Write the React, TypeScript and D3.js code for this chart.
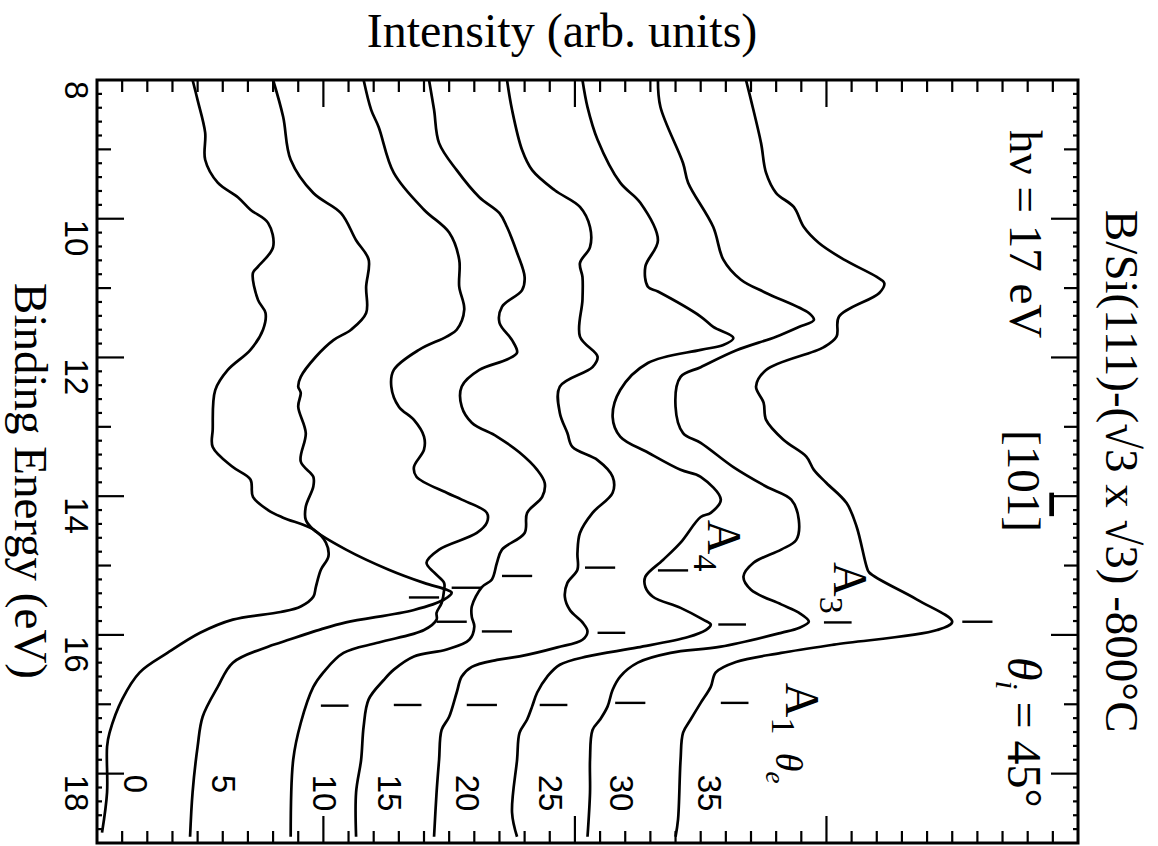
import React from 'react';
import * as d3 from 'd3';

// photoemission spectra, B/Si(111) sqrt3, hv = 17 eV
// each point: [binding energy (eV), intensity (arb. units)]
const angles = [0, 5, 10, 15, 20, 25, 30, 35];

const spec0: [number, number][] = [
  [8.0, 0.48], [8.29, 0.5], [8.76, 0.53], [9.15, 0.53], [9.48, 0.58], [9.69, 0.66], [9.87, 0.71],
  [10.06, 0.78], [10.41, 0.8], [10.69, 0.74], [10.78, 0.72], [11.17, 0.74], [11.36, 0.77], [11.6, 0.76],
  [11.89, 0.71], [12.18, 0.62], [12.47, 0.57], [13.04, 0.56], [13.29, 0.56], [13.58, 0.64], [13.76, 0.71],
  [14.01, 0.72], [14.2, 0.78], [14.31, 0.84], [14.48, 0.96], [14.67, 1.01], [14.87, 1.02], [15.06, 0.99],
  [15.31, 0.97], [15.45, 0.96], [15.59, 0.91], [15.67, 0.83], [15.78, 0.64], [15.97, 0.51], [16.26, 0.38],
  [16.54, 0.27], [16.93, 0.2], [17.41, 0.15], [17.61, 0.14], [18.27, 0.14], [18.85, 0.12],
];
const spec5: [number, number][] = [
  [8.0, 0.8], [8.53, 0.84], [9.15, 0.87], [9.63, 0.96], [9.92, 1.07], [10.31, 1.13], [10.59, 1.18],
  [10.98, 1.17], [11.36, 1.17], [11.6, 1.11], [11.75, 1.04], [11.99, 0.97], [12.28, 0.91], [12.42, 0.9],
  [12.51, 0.91], [12.71, 0.9], [13.09, 0.93], [13.5, 0.91], [13.72, 0.96], [13.86, 0.96], [14.15, 0.93],
  [14.34, 0.93], [14.48, 0.96], [14.77, 1.09], [15.06, 1.26], [15.25, 1.4], [15.35, 1.49], [15.39, 1.51],
  [15.49, 1.48], [15.64, 1.36], [15.82, 1.09], [15.92, 0.99], [16.11, 0.83], [16.17, 0.78], [16.4, 0.64],
  [16.75, 0.58], [17.18, 0.52], [17.61, 0.5], [18.27, 0.48], [18.91, 0.47],
];
const spec10: [number, number][] = [
  [8.0, 1.16], [8.43, 1.19], [8.68, 1.22], [9.34, 1.28], [9.87, 1.4], [10.2, 1.5], [10.59, 1.54],
  [10.98, 1.54], [11.31, 1.56], [11.6, 1.53], [11.7, 1.49], [11.89, 1.38], [12.18, 1.28], [12.42, 1.27],
  [12.71, 1.3], [12.9, 1.36], [13.14, 1.4], [13.33, 1.4], [13.58, 1.36], [13.72, 1.37], [13.95, 1.49],
  [14.05, 1.55], [14.24, 1.65], [14.38, 1.65], [14.53, 1.61], [14.77, 1.46], [14.96, 1.41], [15.1, 1.44],
  [15.25, 1.48], [15.35, 1.48], [15.54, 1.47], [15.68, 1.45], [15.78, 1.45], [15.93, 1.4], [16.11, 1.22],
  [16.26, 1.08], [16.54, 1.0], [16.75, 0.96], [17.27, 0.91], [17.8, 0.88], [18.91, 0.87],
];
const spec15: [number, number][] = [
  [8.0, 1.42], [8.43, 1.44], [8.91, 1.46], [9.3, 1.53], [9.69, 1.62], [9.92, 1.7], [10.12, 1.73],
  [10.49, 1.77], [10.84, 1.8], [11.03, 1.79], [11.27, 1.71], [11.5, 1.7], [11.75, 1.75], [11.93, 1.77],
  [12.03, 1.73], [12.18, 1.62], [12.42, 1.55], [12.71, 1.55], [12.94, 1.59], [13.14, 1.69], [13.37, 1.78],
  [13.62, 1.85], [13.81, 1.88], [14.01, 1.87], [14.24, 1.81], [14.53, 1.8], [14.77, 1.71], [14.96, 1.69],
  [15.2, 1.67], [15.31, 1.63], [15.59, 1.59], [15.74, 1.59], [15.88, 1.6], [16.07, 1.58], [16.21, 1.49],
  [16.31, 1.36], [16.5, 1.28], [16.65, 1.24], [16.93, 1.18], [17.32, 1.16], [17.8, 1.15], [18.27, 1.13],
  [18.91, 1.13],
];
const spec20: [number, number][] = [
  [8.0, 1.73], [8.43, 1.75], [9.01, 1.79], [9.3, 1.83], [9.59, 1.92], [9.83, 2.02], [10.12, 2.06],
  [10.41, 2.06], [10.64, 2.02], [10.84, 2.03], [11.17, 2.03], [11.7, 2.02], [11.99, 2.09], [12.14, 2.07],
  [12.42, 1.94], [12.8, 1.94], [13.09, 1.97], [13.29, 1.99], [13.48, 2.09], [13.72, 2.15], [13.95, 2.15],
  [14.24, 2.07], [14.53, 2.02], [14.82, 2.01], [15.06, 2.01], [15.25, 1.97], [15.45, 1.96], [15.64, 1.98],
  [15.82, 2.03], [15.95, 2.05], [16.07, 2.03], [16.18, 1.93], [16.31, 1.78], [16.36, 1.69], [16.46, 1.59],
  [16.6, 1.55], [16.83, 1.53], [17.18, 1.5], [17.37, 1.47], [17.8, 1.46], [18.27, 1.45], [18.91, 1.44],
];
const spec25: [number, number][] = [
  [8.0, 2.03], [8.39, 2.05], [8.86, 2.09], [9.48, 2.18], [9.77, 2.26], [10.31, 2.33], [10.69, 2.28],
  [10.98, 2.29], [11.05, 2.33], [11.41, 2.5], [11.56, 2.55], [11.72, 2.63], [11.82, 2.59], [11.89, 2.5],
  [12.08, 2.29], [12.47, 2.18], [12.86, 2.15], [13.14, 2.18], [13.37, 2.29], [13.62, 2.42], [13.72, 2.5],
  [14.05, 2.58], [14.24, 2.54], [14.3, 2.5], [14.67, 2.42], [14.92, 2.35], [15.16, 2.28], [15.31, 2.28],
  [15.45, 2.31], [15.61, 2.42], [15.78, 2.51], [15.85, 2.54], [15.93, 2.52], [16.03, 2.45], [16.18, 2.25],
  [16.31, 2.05], [16.43, 1.94], [16.6, 1.89], [16.83, 1.85], [17.03, 1.83], [17.22, 1.81], [17.41, 1.78],
  [17.8, 1.77], [18.56, 1.75], [18.91, 1.77],
];
const spec30: [number, number][] = [
  [8.0, 2.33], [8.39, 2.34], [9.2, 2.43], [9.48, 2.45], [10.12, 2.55], [10.59, 2.59], [10.88, 2.66],
  [11.07, 2.76], [11.36, 2.93], [11.46, 2.95], [11.56, 2.89], [11.7, 2.8], [11.9, 2.64], [12.14, 2.5],
  [12.28, 2.42], [12.71, 2.4], [13.09, 2.43], [13.23, 2.5], [13.58, 2.63], [13.86, 2.76], [14.05, 2.86],
  [14.34, 2.89], [14.63, 2.88], [14.77, 2.82], [14.96, 2.71], [15.16, 2.67], [15.35, 2.7], [15.56, 2.82],
  [15.68, 2.89], [15.81, 2.93], [15.9, 2.89], [15.97, 2.82], [16.17, 2.58], [16.26, 2.38], [16.4, 2.25],
  [16.6, 2.18], [16.79, 2.15], [17.03, 2.13], [17.22, 2.1], [17.37, 2.07], [17.8, 2.06], [18.27, 2.06],
  [18.91, 2.05],
];
const spec35: [number, number][] = [
  [8.0, 2.68], [8.29, 2.7], [8.91, 2.74], [9.34, 2.76], [9.63, 2.8], [9.83, 2.87], [10.12, 2.91],
  [10.35, 2.97], [10.59, 3.07], [10.84, 3.2], [10.93, 3.23], [11.07, 3.21], [11.41, 3.05], [11.7, 3.04],
  [11.85, 2.99], [12.18, 2.76], [12.42, 2.72], [12.65, 2.75], [12.9, 2.76], [13.19, 2.83], [13.43, 2.92],
  [13.62, 2.95], [13.81, 3.0], [14.1, 3.08], [14.44, 3.12], [15.02, 3.16], [15.1, 3.17], [15.49, 3.36],
  [15.81, 3.5], [15.93, 3.44], [16.14, 3.03], [16.26, 2.82], [16.39, 2.64], [16.54, 2.56], [16.75, 2.54],
  [16.98, 2.5], [17.22, 2.46], [17.41, 2.43], [17.8, 2.42], [18.66, 2.41], [18.91, 2.4],
];
const spectra = [spec0, spec5, spec10, spec15, spec20, spec25, spec30, spec35];

// peak position markers: [binding energy, intensity from, intensity to]
const marksA4: [number, number, number][] = [
  [15.46, 1.34, 1.46], [15.32, 1.51, 1.63], [15.15, 1.71, 1.83], [15.03, 2.04, 2.16], [15.07, 2.33, 2.45],
];
const marksA3: [number, number, number][] = [
  [15.81, 1.45, 1.57], [15.95, 1.63, 1.75], [15.97, 2.09, 2.2], [15.85, 2.57, 2.68], [15.82, 2.99, 3.1],
  [15.81, 3.54, 3.66],
];
const marksA1: [number, number, number][] = [
  [17.02, 0.99, 1.1], [17.01, 1.28, 1.39], [17.01, 1.57, 1.69], [17.01, 1.86, 1.97], [16.98, 2.16, 2.28],
  [16.98, 2.58, 2.69],
];

// peak names with where they are written: [binding energy, intensity]
const peakNames = ['4', '3', '1'];
const peakNamePos: [number, number][] = [[14.34, 2.53], [14.95, 3.03], [16.69, 2.84]];

const energyTicks = [8, 10, 12, 14, 16, 18];

const serif = "'Liberation Serif', 'Times New Roman', serif";
const sans = "'Liberation Sans', Arial, sans-serif";

const Rot = ({ x, y, size, family = serif, anchor = 'start', children }: any) => (
  <text
    transform={`translate(${x},${y}) rotate(90)`}
    fontSize={size}
    fontFamily={family}
    textAnchor={anchor}
    fill="#000"
  >
    {children}
  </text>
);

export default function App() {
  const W = 1158;
  const H = 846;
  const x = d3.scaleLinear().domain([0.1, 4.0]).range([97, 1078]);
  const y = d3.scaleLinear().domain([8, 19]).range([80, 843]);

  const line = d3
    .line<[number, number]>()
    .x((d) => x(d[1]))
    .y((d) => y(d[0]))
    .curve(d3.curveCatmullRom.alpha(0.5));

  // ticks: every 0.2 eV on the energy axis, every 0.1 on the intensity axis
  const eTicks = d3.range(1, 55).map((i) => ({ v: 8 + i * 0.2, len: i % 10 === 0 ? 27 : i % 5 === 0 ? 14 : 5 }));
  const iTicks = d3.range(1, 39).map((i) => ({ v: 0.1 + i * 0.1, len: (i + 1) % 10 === 0 ? 27 : 12 }));

  const [x0, x1] = x.range();
  const [y0, y1] = y.range();

  return (
    <svg width={W} height={H} style={{ position: 'absolute', left: 0, top: 0, background: '#fff' }}>
      <rect x={0} y={0} width={W} height={H} fill="#fff" />

      {/* frame */}
      <rect x={x0} y={y0} width={x1 - x0} height={y1 - y0} fill="none" stroke="#000" strokeWidth={3} />

      <g stroke="#000" strokeWidth={2.2}>
        {eTicks.map((t, i) => (
          <g key={'e' + i}>
            <line x1={x0} x2={x0 + t.len} y1={y(t.v)} y2={y(t.v)} />
            <line x1={x1} x2={x1 - t.len} y1={y(t.v)} y2={y(t.v)} />
          </g>
        ))}
        {iTicks.map((t, i) => (
          <g key={'i' + i}>
            <line x1={x(t.v)} x2={x(t.v)} y1={y0} y2={y0 + t.len} />
            <line x1={x(t.v)} x2={x(t.v)} y1={y1} y2={y1 - t.len} />
          </g>
        ))}
      </g>

      {energyTicks.map((v) => (
        <Rot key={v} x={x0 - 32} y={y(v) + 1} size={33} family={sans}>
          {v}
        </Rot>
      ))}

      {/* spectra */}
      <g fill="none" stroke="#000" strokeWidth={2.7} strokeLinejoin="round">
        {spectra.map((s, i) => (
          <path key={i} d={line(s) || ''} />
        ))}
      </g>

      {/* peak markers */}
      <g stroke="#000" strokeWidth={2.4}>
        {[...marksA4, ...marksA3, ...marksA1].map((m, i) => (
          <line key={i} x1={x(m[1])} x2={x(m[2])} y1={y(m[0])} y2={y(m[0])} />
        ))}
      </g>

      {/* emission angle of each curve */}
      {spectra.map((s, i) => (
        <Rot key={'a' + i} x={x(s[s.length - 1][1]) + 22} y={y(18) + 1} size={33} family={sans}>
          {angles[i]}
        </Rot>
      ))}

      {peakNames.map((n, i) => (
        <Rot key={'p' + n} x={x(peakNamePos[i][1])} y={y(peakNamePos[i][0])} size={48}>
          A<tspan dy={14} fontSize={34}>{n}</tspan>
        </Rot>
      ))}
      <Rot x={x(2.8)} y={y(17.7)} size={38}>
        <tspan fontStyle="italic">θ</tspan>
        <tspan dy={10} fontSize={27} fontStyle="italic">e</tspan>
      </Rot>

      {/* titles */}
      <text x={562} y={47} fontSize={48} fontFamily={serif} textAnchor="middle">
        Intensity (arb. units)
      </text>
      <Rot x={15} y={481} size={47} anchor="middle">
        Binding Energy (eV)
      </Rot>
      <Rot x={1106} y={210} size={47}>
        B/Si(111)-(√3 x √3) -800°C
      </Rot>
      <Rot x={1010} y={130} size={47}>
        hν = 17 eV
      </Rot>
      <Rot x={1008} y={430} size={47}>
        [10<tspan style={{ textDecoration: 'overline' }}>1</tspan>]
      </Rot>
      <Rot x={1008} y={657} size={48}>
        <tspan fontStyle="italic">θ</tspan>
        <tspan dy={12} fontSize={32} fontStyle="italic">i</tspan>
        <tspan dy={-12}> = 45°</tspan>
      </Rot>
    </svg>
  );
}
